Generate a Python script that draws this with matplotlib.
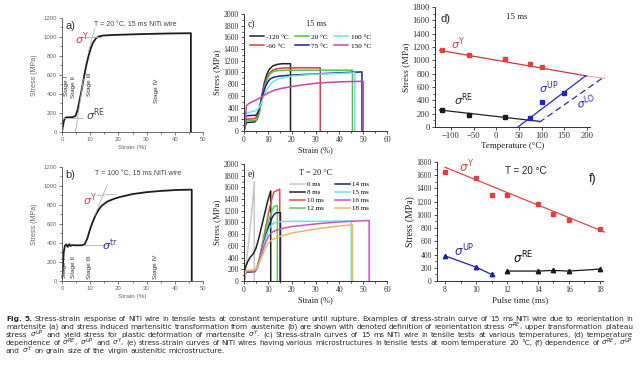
import numpy as np
import matplotlib
matplotlib.use('Agg')
import matplotlib.pyplot as plt
from matplotlib.ticker import MultipleLocator

# ---- panel a: 15 ms wire at 20 C
a_strain = [0, 0.3, 0.7, 1.2, 2, 3, 4, 4.8, 5.5, 6.2, 7, 7.8, 8.6, 9.4, 10.2, 11, 12, 13, 14.5, 17, 22, 30, 38, 45.7, 45.7]
a_stress = [0, 60, 120, 150, 155, 155, 158, 170, 230, 330, 450, 580, 700, 800, 880, 940, 985, 1005, 1015, 1020, 1025, 1032, 1037, 1040, 0]

# ---- panel b: 15 ms wire at 100 C
b_strain = [0, 0.3, 0.6, 1.0, 1.5, 2.0, 2.5, 3.0, 3.5, 5, 7, 8, 9, 10, 11, 12, 13, 14, 16, 18, 20, 25, 30, 35, 40, 46, 46]
b_stress = [0, 150, 300, 370, 385, 360, 388, 368, 378, 375, 376, 385, 450, 550, 630, 700, 750, 790, 835, 860, 880, 915, 935, 948, 957, 962, 0]

# ---- panel c: 15 ms wire, various temperatures
c_labels = ['-120 °C', '-60 °C', '20 °C', '75 °C', '100 °C', '150 °C']
c_colors = ['#222222', '#e03a3a', '#4cc44c', '#22228a', '#6ee6da', '#c448a8']
c_x = [
    [0, 1, 4.5, 5.5, 6.5, 7.5, 8.5, 9.5, 10.5, 12, 14, 16, 18, 19.5, 19.5],
    [0, 0.8, 4.5, 5.5, 6.5, 7.5, 8.5, 9.5, 10.5, 12, 14, 16, 20, 25, 32, 32],
    [0, 0.8, 5, 6, 7, 8, 9, 10, 11, 12.5, 15, 20, 30, 40, 45.5, 45.5],
    [0, 0.8, 5, 6, 7, 8, 9, 10, 11, 12.5, 15, 20, 30, 40, 49.5, 49.5],
    [0, 0.8, 3, 5, 6, 7, 8, 9, 10, 12, 15, 20, 30, 40, 46.5, 46.5],
    [0, 1, 2, 4, 6, 8, 10, 13, 16, 20, 25, 30, 35, 40, 45, 50, 50],
]
c_y = [
    [0, 145, 155, 200, 350, 600, 820, 960, 1050, 1110, 1140, 1150, 1150, 1150, 0],
    [0, 200, 210, 260, 400, 600, 780, 900, 980, 1040, 1065, 1075, 1080, 1080, 1080, 0],
    [0, 170, 180, 240, 420, 620, 800, 910, 980, 1020, 1035, 1040, 1040, 1040, 1040, 0],
    [0, 260, 270, 330, 480, 640, 760, 840, 890, 920, 940, 955, 975, 995, 1010, 0],
    [0, 300, 330, 350, 380, 450, 560, 660, 740, 840, 900, 940, 970, 985, 995, 0],
    [0, 430, 470, 510, 550, 600, 650, 700, 730, 760, 790, 815, 830, 840, 845, 850, 0],
]

# ---- panel d: characteristic stresses vs temperature
d_temp_y = [-120, -60, 20, 75, 100]
d_sig_y = [1160, 1080, 1020, 940, 900]
d_temp_re = [-120, -60, 20]
d_sig_re = [260, 180, 150]
d_temp_up = [75, 100, 150]
d_sig_up = [130, 380, 510]
d_line_y = ([-125, 200], [1150, 765])
d_line_y2 = ([200, 240], [765, 730])
d_line_re = ([-125, 95], [255, 85])
d_line_up = ([48, 198], [0, 770])
d_line_lo = ([95, 240], [70, 760])

# ---- panel e: various pulse times at 20 C
e_labels = ['0 ms', '8 ms', '10 ms', '12 ms', '14 ms', '15 ms', '16 ms', '18 ms']
e_colors = ['#c8c8c8', '#222222', '#e05050', '#55d055', '#22226e', '#66e8e0', '#c854c8', '#f2b464']
e_x = [
    [0, 0.5, 1.5, 2.5, 3.5, 4.3, 4.3],
    [0, 0.5, 1.5, 2.5, 4, 5, 6, 7, 8, 9, 10, 11.2, 11.2],
    [0, 0.8, 4.5, 5.5, 6.5, 7.5, 8.5, 9.5, 10.5, 11.5, 12.5, 14.5, 15, 15],
    [0, 0.8, 4.5, 5.5, 6.5, 7.5, 8.5, 9.5, 10.5, 11.5, 12.5, 14, 14],
    [0, 0.8, 4.5, 5.5, 6.5, 7.5, 8.5, 9.5, 10.5, 11.5, 12.5, 13.5, 15.3, 15.3],
    [0, 0.8, 4.5, 5.5, 6.5, 7.5, 8.5, 9.5, 10.5, 12, 14, 20, 30, 45, 45],
    [0, 0.8, 4.5, 5.5, 6.5, 7.5, 8.5, 9.5, 10.5, 12, 15, 20, 30, 40, 52.5, 52.5],
    [0, 0.8, 4.5, 5.5, 6.5, 7.5, 8.5, 9.5, 10.5, 12, 15, 20, 30, 40, 45.5, 45.5],
]
e_y = [
    [0, 200, 500, 900, 1300, 1700, 0],
    [0, 220, 330, 400, 470, 560, 700, 870, 1040, 1210, 1380, 1540, 0],
    [0, 170, 180, 240, 400, 600, 800, 1000, 1200, 1380, 1520, 1560, 1570, 0],
    [0, 160, 170, 230, 380, 560, 740, 900, 1050, 1180, 1270, 1290, 0],
    [0, 150, 160, 220, 360, 520, 680, 820, 950, 1060, 1130, 1165, 1170, 0],
    [0, 170, 180, 230, 350, 500, 650, 780, 890, 980, 1010, 1020, 1020, 1025, 0],
    [0, 160, 170, 220, 330, 470, 600, 700, 780, 840, 890, 930, 975, 1010, 1035, 0],
    [0, 180, 190, 230, 320, 420, 520, 600, 660, 710, 760, 820, 890, 940, 960, 0],
]

# ---- panel f: characteristic stresses vs pulse time
f_t_y = [8, 10, 11, 12, 14, 15, 16, 18]
f_sig_y = [1650, 1560, 1300, 1300, 1160, 1010, 920, 790]
f_line_y = ([8, 18.3], [1720, 740])
f_t_up = [8, 10, 11]
f_sig_up = [380, 210, 100]
f_t_re = [12, 14, 15, 16, 18]
f_sig_re = [150, 150, 160, 150, 180]

caption = [
    "Fig. 5. Stress-strain response of NiTi wire in tensile tests at constant temperature until rupture. Examples of stress-strain curve of 15 ms NiTi wire due to reorientation in",
    r"martensite (a) and stress induced martensitic transformation from austenite (b) are shown with denoted definition of reorientation stress $\sigma^{RE}$, upper transformation plateau",
    r"stress $\sigma^{UP}$ and yield stress for plastic deformation of martensite $\sigma^{Y}$. (c) Stress-strain curves of 15 ms NiTi wire in tensile tests at various temperatures, (d) temperature",
    r"dependence of $\sigma^{RE}$, $\sigma^{UP}$ and $\sigma^{Y}$, (e) stress-strain curves of NiTi wires having various microstructures in tensile tests at room temperature 20 °C, (f) dependence of $\sigma^{RE}$, $\sigma^{UP}$",
    r"and $\sigma^{Y}$ on grain size of the virgin austenitic microstructure.",
]

SANS = 'Liberation Sans'
SERIF = 'Liberation Serif'
RED = '#d8404a'
BLUE = '#2a2ab8'


def style(ax, color, size, family):
    ax.spines['top'].set_visible(False)
    ax.spines['right'].set_visible(False)
    for s in ('left', 'bottom'):
        ax.spines[s].set_color(color)
        ax.spines[s].set_linewidth(0.7)
    ax.tick_params(which='both', direction='out', colors=color, labelsize=size,
                   width=0.6, pad=1.2, labelfontfamily=family)
    ax.tick_params(which='major', length=2.5)
    ax.tick_params(which='minor', length=1.4)


fig = plt.figure(figsize=(6.4, 3.71), dpi=100)

# ---------------- a
ax = fig.add_axes([0.0969, 0.6442, 0.2203, 0.3073])
ax.plot(a_strain, a_stress, color='#1e1e1e', lw=1.3)
ax.plot([0, 7.5], [152, 152], color='#b0b0b0', lw=0.6)
ax.plot([4.8, 7.6], [0, 560], color='#b0b0b0', lw=0.6)
ax.plot([7.5, 14], [1005, 1005], color='#b0b0b0', lw=0.6)
ax.plot([9.3, 11.6], [840, 1090], color='#b0b0b0', lw=0.6)
ax.set_xlim(0, 50)
ax.set_ylim(0, 1200)
ax.xaxis.set_major_locator(MultipleLocator(10))
ax.xaxis.set_minor_locator(MultipleLocator(5))
ax.yaxis.set_major_locator(MultipleLocator(200))
ax.yaxis.set_minor_locator(MultipleLocator(100))
style(ax, '#666666', 4.3, SANS)
ax.set_xlabel('Strain (%)', fontsize=4.6, family=SANS, color='#666666', labelpad=2)
ax.set_ylabel('Stress (MPa)', fontsize=5, family=SANS, color='#666666', labelpad=4)
ax.text(1.2, 1080, 'a)', fontsize=8, family=SANS, color='#333333')
ax.text(26, 1120, 'T = 20 °C, 15 ms NiTi wire', fontsize=5, family=SANS, color='#444444', ha='center')
ax.text(4.5, 930, r'$\sigma^{\mathrm{Y}}$', fontsize=8, color=RED)
ax.text(8.5, 130, r'$\sigma^{\mathrm{RE}}$', fontsize=8, color='#444444')
for x, y, s in [(1.6, 480, 'Stage I'), (4.1, 470, 'Stage II'), (9.8, 500, 'Stage III'), (33.5, 430, 'Stage IV')]:
    ax.text(x, y, s, rotation=90, fontsize=4.6, family=SANS, color='#333333', ha='center', va='center')

# ---------------- b
ax = fig.add_axes([0.0969, 0.2426, 0.2203, 0.3073])
ax.plot(b_strain, b_stress, color='#1e1e1e', lw=1.3)
ax.plot([8, 16.5], [380, 380], color='#b0b0b0', lw=0.6)
ax.plot([11.6, 16], [690, 1010], color='#b0b0b0', lw=0.6)
ax.plot([12.5, 19.5], [900, 915], color='#b0b0b0', lw=0.6)
ax.set_xlim(0, 50)
ax.set_ylim(0, 1200)
ax.xaxis.set_major_locator(MultipleLocator(10))
ax.xaxis.set_minor_locator(MultipleLocator(5))
ax.yaxis.set_major_locator(MultipleLocator(200))
ax.yaxis.set_minor_locator(MultipleLocator(100))
style(ax, '#666666', 4.3, SANS)
ax.set_xlabel('Strain (%)', fontsize=4.6, family=SANS, color='#666666', labelpad=2)
ax.set_ylabel('Stress (MPa)', fontsize=5, family=SANS, color='#666666', labelpad=4)
ax.text(1.2, 1080, 'b)', fontsize=8, family=SANS, color='#333333')
ax.text(27, 1120, 'T = 100 °C, 15 ms NiTi wire', fontsize=5, family=SANS, color='#444444', ha='center')
ax.text(7.5, 800, r'$\sigma^{\mathrm{Y}}$', fontsize=8, color=RED)
ax.text(14.3, 330, r'$\sigma^{\mathrm{tr}}$', fontsize=8, color=BLUE)
for x, y, s in [(1.0, 140, 'Stage I'), (4.0, 150, 'Stage II'), (9.8, 150, 'Stage III'), (33, 150, 'Stage IV')]:
    ax.text(x, y, s, rotation=90, fontsize=4.6, family=SANS, color='#333333', ha='center', va='center')

# ---------------- c
ax = fig.add_axes([0.3813, 0.6469, 0.2234, 0.3154])
for xs, ys, lab, col in zip(c_x, c_y, c_labels, c_colors):
    ax.plot(xs, ys, color=col, lw=1.1, label=lab)
ax.set_xlim(0, 60)
ax.set_ylim(0, 2000)
ax.xaxis.set_major_locator(MultipleLocator(10))
ax.xaxis.set_minor_locator(MultipleLocator(5))
ax.yaxis.set_major_locator(MultipleLocator(200))
ax.yaxis.set_minor_locator(MultipleLocator(100))
style(ax, '#333333', 5.6, SERIF)
ax.set_xlabel('Strain (%)', fontsize=6, family=SERIF, color='#222222', labelpad=1.5)
ax.set_ylabel('Stress (MPa)', fontsize=6.3, family=SERIF, color='#222222', labelpad=1.5)
ax.text(1.5, 1780, 'c)', fontsize=7, family=SERIF, color='#222222')
ax.text(26, 1800, '15 ms', fontsize=6, family=SERIF, color='#222222')
ax.legend(loc='upper left', bbox_to_anchor=(0.04, 0.83), ncol=3, frameon=False,
          prop={'family': SERIF, 'size': 5.2}, handlelength=2.0, handletextpad=0.3,
          columnspacing=0.8, labelspacing=0.35, borderpad=0, borderaxespad=0)

# ---------------- e
ax = fig.add_axes([0.3813, 0.2426, 0.2234, 0.3154])
for xs, ys, lab, col in zip(e_x, e_y, e_labels, e_colors):
    ax.plot(xs, ys, color=col, lw=1.1, label=lab)
ax.set_xlim(0, 60)
ax.set_ylim(0, 2000)
ax.xaxis.set_major_locator(MultipleLocator(10))
ax.xaxis.set_minor_locator(MultipleLocator(5))
ax.yaxis.set_major_locator(MultipleLocator(200))
ax.yaxis.set_minor_locator(MultipleLocator(100))
style(ax, '#333333', 5.6, SERIF)
ax.set_xlabel('Strain (%)', fontsize=6, family=SERIF, color='#222222', labelpad=1.5)
ax.set_ylabel('Stress (MPa)', fontsize=6.3, family=SERIF, color='#222222', labelpad=1.5)
ax.text(1.5, 1780, 'e)', fontsize=7, family=SERIF, color='#222222')
ax.text(30, 1820, 'T = 20 °C', fontsize=6, family=SERIF, color='#222222', ha='center')
ax.legend(loc='upper left', bbox_to_anchor=(0.32, 0.85), ncol=2, frameon=False,
          prop={'family': SERIF, 'size': 5.0}, handlelength=2.2, handletextpad=0.3,
          columnspacing=1.6, labelspacing=0.3, borderpad=0, borderaxespad=0)

# ---------------- d
ax = fig.add_axes([0.6797, 0.6577, 0.2422, 0.3235])
ax.plot(*d_line_y, color='#c83a3a', lw=0.9)
ax.plot(*d_line_y2, color='#e89090', lw=0.6, clip_on=False)
ax.plot(*d_line_re, color='#222222', lw=0.9)
ax.plot(*d_line_up, color=BLUE, lw=0.9, clip_on=False)
ax.plot(*d_line_lo, color=BLUE, lw=0.9, ls=(0, (5, 3)), clip_on=False)
ax.plot(d_temp_y, d_sig_y, 's', color='#e04040', ms=3.2, clip_on=False)
ax.plot(d_temp_re, d_sig_re, 's', color='#1a1a1a', ms=3.2, clip_on=False)
ax.plot(d_temp_up, d_sig_up, 's', color='#2222cc', ms=3.2, clip_on=False)
ax.set_xlim(-135, 207)
ax.set_ylim(0, 1800)
ax.xaxis.set_major_locator(MultipleLocator(50))
ax.yaxis.set_major_locator(MultipleLocator(200))
ax.yaxis.set_minor_locator(MultipleLocator(100))
style(ax, '#333333', 6.2, SERIF)
ax.set_xlabel('Temperature (°C)', fontsize=6.5, family=SERIF, color='#222222', labelpad=1.5)
ax.set_ylabel('Stress (MPa)', fontsize=6.8, family=SERIF, color='#222222', labelpad=1.5)
ax.text(-122, 1580, 'd)', fontsize=8, family=SANS, color='#222222')
ax.text(22, 1620, '15 ms', fontsize=6.3, family=SERIF, color='#222222')
ax.text(-100, 1180, r'$\sigma^{\mathrm{Y}}$', fontsize=8, color=RED)
ax.text(-92, 330, r'$\sigma^{\mathrm{RE}}$', fontsize=8, color='#222222')
ax.text(95, 520, r'$\sigma^{\mathrm{UP}}$', fontsize=8, color=BLUE)
ax.text(175, 270, r'$\sigma^{\mathrm{LO}}$', fontsize=8, color=BLUE, rotation=10)

# ---------------- f
ax = fig.add_axes([0.6828, 0.2426, 0.2594, 0.3208])
ax.plot(*f_line_y, color='#e04848', lw=0.9, clip_on=False)
ax.plot(f_t_y, f_sig_y, 's', color='#e04040', ms=3.2)
ax.plot(f_t_up, f_sig_up, '^-', color='#2222b0', ms=3.2, lw=0.9)
ax.plot(f_t_re, f_sig_re, '^-', color='#1a1a1a', ms=3.2, lw=0.9)
ax.set_xlim(7.48, 18.2)
ax.set_ylim(0, 1800)
ax.xaxis.set_major_locator(MultipleLocator(2))
ax.xaxis.set_minor_locator(MultipleLocator(1))
ax.yaxis.set_major_locator(MultipleLocator(200))
ax.yaxis.set_minor_locator(MultipleLocator(100))
style(ax, '#333333', 5.6, SERIF)
ax.set_xlabel('Pulse time (ms)', fontsize=6.5, family=SERIF, color='#222222', labelpad=1.5)
ax.set_ylabel('Stress (MPa)', fontsize=7, family=SERIF, color='#222222', labelpad=1.5)
ax.text(8.9, 1640, r'$\sigma^{\mathrm{Y}}$', fontsize=8.5, color=RED)
ax.text(13.2, 1620, 'T = 20 °C', fontsize=7, family=SANS, color='#222222', ha='center')
ax.text(17.3, 1500, 'f)', fontsize=9, family=SANS, color='#222222')
ax.text(8.6, 380, r'$\sigma^{\mathrm{UP}}$', fontsize=8.5, color=BLUE)
ax.text(12.4, 270, r'$\sigma^{\mathrm{RE}}$', fontsize=8.5, color='#111111')

# ---------------- caption, justified word by word
renderer = fig.canvas.get_renderer()
W, H = 640.0, 371.0
x_left, x_right = 6 / W, 633 / W
for i, line in enumerate(caption):
    y = 1 - (319 + 7.9 * i) / H
    words = line.split(' ')
    texts = []
    for k, w in enumerate(words):
        bold = (i == 0 and k < 2)
        t = fig.text(0, y, w, fontsize=5.3, family='DejaVu Sans', color='#2a2a2a', va='center',
                     fontweight='bold' if bold else 'normal')
        texts.append(t)
    widths = [t.get_window_extent(renderer).width / W for t in texts]
    if i < len(caption) - 1:
        gap = (x_right - x_left - sum(widths)) / (len(words) - 1)
    else:
        gap = 2.2 / W
    x = x_left
    for t, w in zip(texts, widths):
        t.set_x(x)
        x += w + gap

fig.savefig('out.png', dpi=100)
